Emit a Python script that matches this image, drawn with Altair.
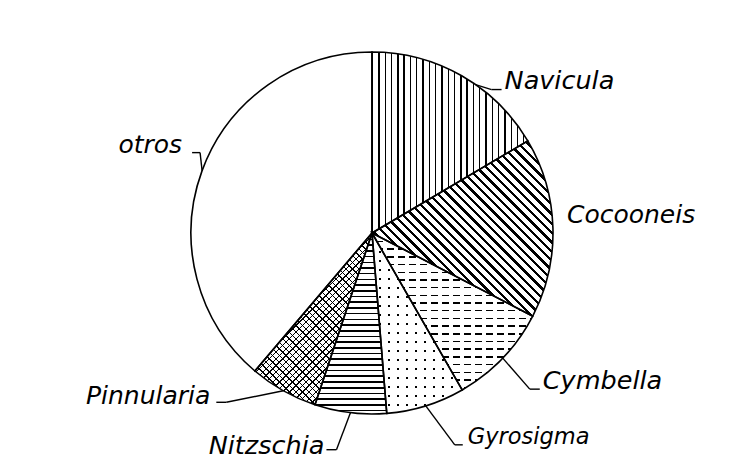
import math
import altair as alt
import pandas as pd

# ---- data ----
genus = ["Navicula", "Cocooneis", "Cymbella", "Gyrosigma", "Nitzschia", "Pinnularia", "otros"]
share = [16.5, 16.1, 9.1, 7.0, 6.4, 6.1, 38.8]

# ---- layout / style ----
W, H = 727, 451
CX, CY, R = 364, 225, 181
FONT = "DejaVu Sans"
# angle shift (deg), elbow dx, elbow dy, tail, text dx, text dy, align, font size
label_layout = {
    "Navicula":   (5.2, 16, 5, 10, 3, -1, "left", 25.5),
    "Cocooneis":  (0, 0, 0, 0, 14, -4.6, "left", 25),
    "Cymbella":   (0, 27, 31, 10, 3, 0, "left", 25.5),
    "Gyrosigma":  (0, 29, 39, 8, 5, -1, "left", 22.5),
    "Nitzschia":  (0, -14, 37, -10, -2, 4, "right", 25.5),
    "Pinnularia": (0, -57, 11.5, -10, -6, 1.6, "right", 25),
    "otros":      (0, -2, -18, -8, -10, 0, "right", 25),
}

df = pd.DataFrame({"genus": genus, "share": share, "order": list(range(len(genus)))})
cols = ["shift", "edx", "edy", "tail", "tdx", "tdy", "align", "fs"]
for i, c in enumerate(cols):
    df[c] = [label_layout[g][i] for g in genus]

# ---- hatch patterns as hard-stop linear gradients ----
def slice_bbox(t0, t1):
    pts = [(0.0, 0.0)]
    for t in (t0, t1):
        pts.append((R * math.sin(t), -R * math.cos(t)))
    k = math.ceil(t0 / (math.pi / 2))
    while k * math.pi / 2 < t1:
        t = k * math.pi / 2
        pts.append((R * math.sin(t), -R * math.cos(t)))
        k += 1
    xs = [p[0] for p in pts]
    ys = [p[1] for p in pts]
    return max(xs) - min(xs), max(ys) - min(ys)


def stripes(kind, w, h, spacing, thick, ink="black", bg="white"):
    if kind == "v":
        L = w
        c = dict(x1=0, y1=0, x2=1, y2=0)
    elif kind == "h":
        L = h
        c = dict(x1=0, y1=0, x2=0, y2=1)
    else:
        k = (w + h) / (w * w + h * h)
        L = (w + h) / math.sqrt(2)
        if kind == "bs":
            c = dict(x1=0, y1=1, x2=k * w, y2=1 - k * h)
        else:
            c = dict(x1=0, y1=0, x2=k * w, y2=k * h)
    p = spacing / L
    f = thick / L
    stops = []
    i = 0
    while i * p < 1:
        a = i * p
        b = min(1.0, a + f)
        e = min(1.0, (i + 1) * p)
        stops += [
            {"offset": round(a, 5), "color": ink},
            {"offset": round(b, 5), "color": ink},
            {"offset": round(b, 5), "color": bg},
            {"offset": round(e, 5), "color": bg},
        ]
        i += 1
    g = {"gradient": "linear", "stops": stops}
    g.update({kk: round(v, 5) for kk, v in c.items()})
    return g


CLEAR = "rgba(255,255,255,0)"
total = sum(share)
cum = 0
fills = {}
for g, s in zip(genus, share):
    t0 = cum / total * 2 * math.pi
    cum += s
    t1 = cum / total * 2 * math.pi
    w, h = slice_bbox(t0, t1)
    if g == "Navicula":
        fills[g] = [stripes("v", w, h, 6.3, 1.3)]
    elif g == "Cocooneis":
        fills[g] = [stripes("bs", w, h, 6.6, 2.3)]
    elif g == "Cymbella":
        fills[g] = [stripes("h", w, h, 7.7, 1.5),
                    stripes("v", w, h, 11, 4, ink="white", bg=CLEAR)]
    elif g == "Gyrosigma":
        fills[g] = [stripes("h", w, h, 9, 1.6),
                    stripes("v", w, h, 9, 7.4, ink="white", bg=CLEAR)]
    elif g == "Nitzschia":
        fills[g] = [stripes("h", w, h, 5.7, 1.6)]
    elif g == "Pinnularia":
        fills[g] = [stripes("bs", w, h, 4.7, 1.0),
                    stripes("fs", w, h, 4.7, 1.0, bg=CLEAR)]
    else:
        fills[g] = ["white"]

# ---- chart ----
base = (
    alt.Chart(df)
    .transform_joinaggregate(total="sum(share)")
    .transform_window(cum="sum(share)", sort=[alt.SortField("order")], frame=[None, 0])
    .transform_calculate(
        a1="datum.cum / datum.total * 2 * PI",
        a0="(datum.cum - datum.share) / datum.total * 2 * PI",
    )
)

arc_enc = dict(
    theta=alt.Theta("a0:Q", scale=None),
    theta2="a1:Q",
    x=alt.value(CX),
    y=alt.value(CY),
)

layers = []
for g in genus:
    for fill in fills[g]:
        layers.append(
            base.transform_filter(alt.datum.genus == g)
            .mark_arc(radius=R, fill=fill, strokeWidth=0)
            .encode(**arc_enc)
        )

outline = base.mark_arc(radius=R, fillOpacity=0, stroke="black", strokeWidth=1.6).encode(**arc_enc)
layers.append(outline)

geo = base.transform_calculate(
    am="(datum.a0 + datum.a1) / 2 + datum.shift * PI / 180",
).transform_calculate(
    p0x=f"{CX} + {R} * sin(datum.am)",
    p0y=f"{CY} - {R} * cos(datum.am)",
).transform_calculate(
    p1x="datum.p0x + datum.edx",
    p1y="datum.p0y + datum.edy",
).transform_calculate(
    p2x="datum.p1x + datum.tail",
    tx="datum.p1x + datum.tail + datum.tdx",
    ty="datum.p1y + datum.tdy",
)

leaders = geo.transform_filter("datum.tail != 0")
seg1 = leaders.mark_rule(color="black", strokeWidth=1.4).encode(
    x=alt.X("p0x:Q", scale=None, axis=None),
    y=alt.Y("p0y:Q", scale=None, axis=None),
    x2="p1x:Q",
    y2="p1y:Q",
)
seg2 = leaders.mark_rule(color="black", strokeWidth=1.4).encode(
    x=alt.X("p1x:Q", scale=None, axis=None),
    y=alt.Y("p1y:Q", scale=None, axis=None),
    x2="p2x:Q",
    y2="p1y:Q",
)
layers += [seg1, seg2]

for al in ("left", "right"):
    layers.append(
        geo.transform_filter(alt.datum.align == al)
        .mark_text(align=al, baseline="alphabetic", font=FONT, fontStyle="italic", color="black")
        .encode(
            x=alt.X("tx:Q", scale=None, axis=None),
            y=alt.Y("ty:Q", scale=None, axis=None),
            text="genus:N",
            size=alt.Size("fs:Q", scale=None, legend=None),
        )
    )

chart = (
    alt.layer(*layers)
    .properties(width=W, height=H, autosize="none", padding=0, background="white")
    .configure_view(stroke=None)
)

chart.save("out.html", embed_options={"renderer": "svg", "actions": False})
